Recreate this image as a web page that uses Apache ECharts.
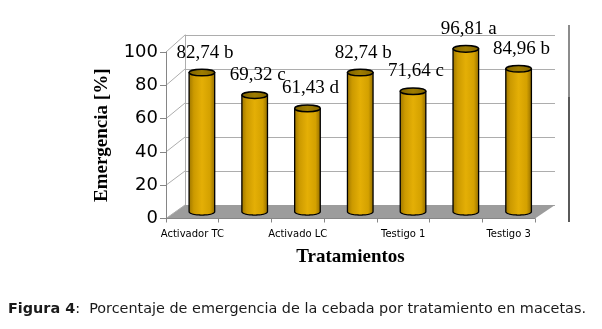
<!DOCTYPE html>
<html><head><meta charset="utf-8">
<script src="https://cdn.jsdelivr.net/npm/echarts@6/dist/echarts.min.js"></script>
<style>html,body{margin:0;padding:0;background:#fff}#c{width:602px;height:329px}</style>
</head><body><div id="c"></div>
<script>
const categories = ['Activador TC', 'Activador TL', 'Activado LC', 'Activado TL', 'Testigo 1', 'Testigo 2', 'Testigo 3'];
const values = [82.74, 69.32, 61.43, 82.74, 71.64, 96.81, 84.96];
const letters = ['b', 'c', 'd', 'b', 'c', 'a', 'b'];
const yTicks = [0, 20, 40, 60, 80, 100];
const yTitle = 'Emergencia [%]';
const xTitle = 'Tratamientos';
const caption = 'Figura 4';
const captionText = ':  Porcentaje de emergencia de la cebada por tratamiento en macetas.';

const chart = echarts.init(document.getElementById('c'), null, {renderer: 'canvas'});
const AX = '#868686', GRIDC = '#ADADAD';

function backPt(ci, v) { return chart.convertToPixel({xAxisIndex: 1, yAxisIndex: 1}, [ci, v]); }

const bodyFill = new echarts.graphic.LinearGradient(0, 0, 1, 0, [
  {offset: 0, color: '#9A7300'}, {offset: 0.2, color: '#CC9A00'}, {offset: 0.5, color: '#E4AF06'},
  {offset: 0.8, color: '#D4A100'}, {offset: 1, color: '#8E6900'}]);
const topFill = new echarts.graphic.LinearGradient(0, 0, 1, 0, [
  {offset: 0, color: '#7E6200'}, {offset: 0.5, color: '#9E7C00'}, {offset: 1, color: '#836500'}]);

const option = {
  animation: false,
  grid: [
    {left: 166, right: 67, top: 52, bottom: 110.5, outerBoundsMode: 'none'},
    {left: 185, right: 47, top: 35, bottom: 124, outerBoundsMode: 'none'},
    {left: 175.5, right: 57, top: 43.5, bottom: 117.25, outerBoundsMode: 'none'}
  ],
  xAxis: [
    {gridIndex: 0, type: 'category', data: categories, z: 5,
     axisLine: {lineStyle: {color: AX}}, axisTick: {show: true, interval: 0, length: 4, lineStyle: {color: AX}},
     axisLabel: {interval: 1, margin: 11, fontFamily: 'DejaVu Sans', fontSize: 10, color: '#000'},
     name: xTitle, nameLocation: 'middle', nameGap: 29,
     nameTextStyle: {fontFamily: 'Liberation Serif', fontWeight: 'bold', fontSize: 19, color: '#000'}},
    {gridIndex: 1, type: 'category', data: categories, show: false},
    {gridIndex: 2, type: 'category', data: categories, show: false}
  ],
  yAxis: [
    {gridIndex: 0, type: 'value', min: 0, max: 100, interval: 20, z: 5,
     axisLine: {show: true, lineStyle: {color: AX}}, axisTick: {show: true, length: 6, lineStyle: {color: AX}},
     axisLabel: {fontFamily: 'DejaVu Sans', fontSize: 18, color: '#000', margin: 8},
     splitLine: {show: false},
     name: yTitle, nameLocation: 'middle', nameRotate: 90, nameGap: 54,
     nameTextStyle: {fontFamily: 'Liberation Serif', fontWeight: 'bold', fontSize: 19, color: '#000'}},
    {gridIndex: 1, type: 'value', min: 0, max: 100, interval: 20,
     axisLine: {show: true, lineStyle: {color: GRIDC}}, axisTick: {show: false}, axisLabel: {show: false},
     splitLine: {show: true, lineStyle: {color: GRIDC}}},
    {gridIndex: 2, type: 'value', min: 0, max: 100, show: false}
  ],
  series: [
    { // floor
      type: 'custom', xAxisIndex: 0, yAxisIndex: 0, z: 1, silent: true, clip: false,
      data: [[0, 0]],
      renderItem: function (params, api) {
        const n = categories.length;
        const bw = api.size([1, 0])[0];
        const fl = api.coord([0, 0]), fr = api.coord([n - 1, 0]);
        const bl = backPt(0, 0), br = backPt(n - 1, 0);
        const bbw = backPt(1, 0)[0] - bl[0];
        return {type: 'polygon', shape: {points: [
          [fl[0] - bw / 2, fl[1]], [fr[0] + bw / 2, fr[1]], [br[0] + bbw / 2, br[1]], [bl[0] - bbw / 2, bl[1]]]},
          style: {fill: '#9C9C9C', stroke: null}};
      }
    },
    { // side wall diagonals
      type: 'custom', xAxisIndex: 0, yAxisIndex: 0, z: 1, silent: true, clip: false,
      data: yTicks.map(v => [0, v]),
      renderItem: function (params, api) {
        const v = api.value(1);
        const bw = api.size([1, 0])[0];
        const f = api.coord([0, v]);
        const b = backPt(0, v);
        const bbw = backPt(1, 0)[0] - backPt(0, 0)[0];
        return {type: 'line', shape: {x1: f[0] - bw / 2, y1: f[1], x2: b[0] - bbw / 2, y2: b[1]},
          style: {stroke: GRIDC, lineWidth: 1}};
      }
    },
    { // cylinders
      type: 'custom', xAxisIndex: 2, yAxisIndex: 2, z: 3, silent: true, clip: false,
      data: values.map((v, i) => [i, v]),
      renderItem: function (params, api) {
        const i = api.value(0), v = api.value(1);
        const top = api.coord([i, v]), bot = api.coord([i, 0]);
        const w = api.size([1, 0])[0] * 0.485;
        const rx = w / 2, ry = 3.3;
        const x1 = top[0] - rx, x2 = top[0] + rx;
        const pts = [[x1, top[1]], [x1, bot[1]]];
        for (let k = 1; k < 24; k++) {
          const a = Math.PI * k / 24;
          pts.push([top[0] - rx * Math.cos(a), bot[1] + ry * Math.sin(a)]);
        }
        pts.push([x2, bot[1]], [x2, top[1]]);
        const label = values[i].toFixed(2).replace('.', ',') + ' ' + letters[i];
        return {type: 'group', children: [
          {type: 'polygon', shape: {points: pts}, style: {fill: bodyFill, stroke: '#000', lineWidth: 1.3}},
          {type: 'ellipse', shape: {cx: top[0], cy: top[1], rx: rx, ry: ry}, style: {fill: topFill, stroke: '#000', lineWidth: 1.5}},
          {type: 'text', x: top[0] + 3, y: top[1] - 20,
           style: {text: label, font: '19px "Liberation Serif"', fill: '#000', align: 'center', verticalAlign: 'middle'}}
        ]};
      }
    }
  ],
  graphic: [
    {type: 'line', shape: {x1: 569, y1: 25, x2: 569, y2: 97}, style: {stroke: '#8C8C8C', lineWidth: 2}},
    {type: 'line', shape: {x1: 569, y1: 97, x2: 569, y2: 222}, style: {stroke: '#000', lineWidth: 1.3}},
    {type: 'text', left: 8, top: 302,
     style: {text: '{b|' + caption + '}' + captionText, font: '14.4px "DejaVu Sans"', fill: '#1a1a1a',
       rich: {b: {fontFamily: 'DejaVu Sans', fontSize: 14.4, fontWeight: 'bold', fill: '#1a1a1a'}}}}
  ]
};
chart.setOption(option);
</script>
</body></html>
